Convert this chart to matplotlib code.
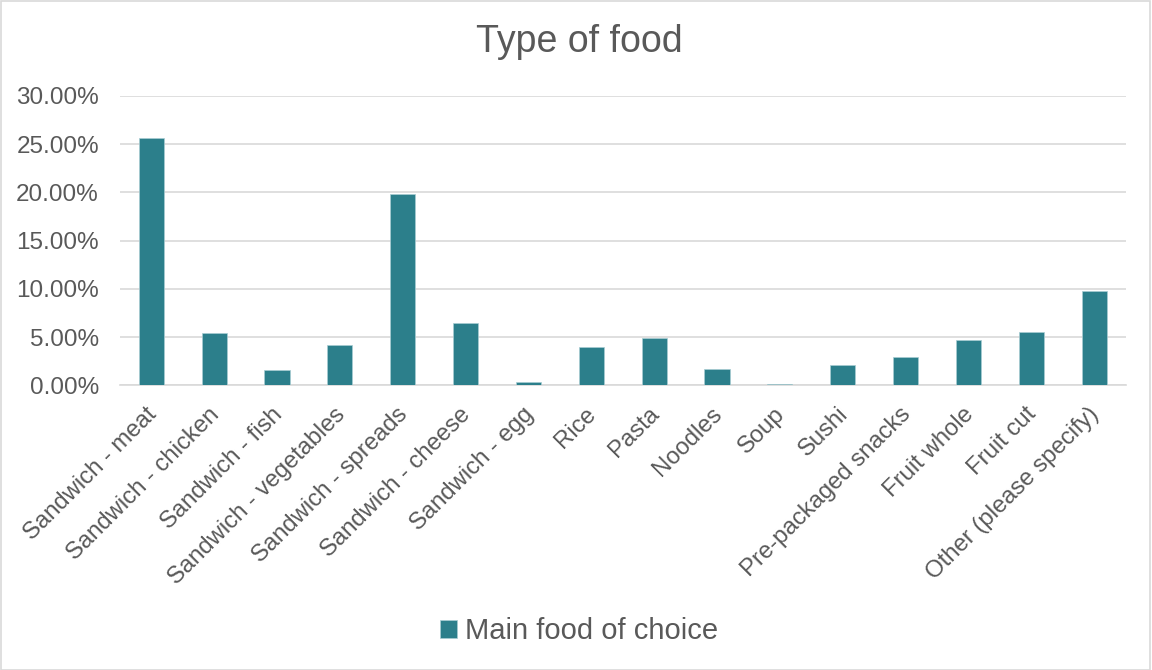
import matplotlib.pyplot as plt
from matplotlib.ticker import PercentFormatter
from matplotlib.transforms import ScaledTranslation

plt.rcParams['font.family'] = ['Liberation Sans', 'DejaVu Sans']

# ===== DONNEES =====
categories = ['Sandwich - meat', 'Sandwich - chicken', 'Sandwich - fish',
              'Sandwich - vegetables', 'Sandwich - spreads', 'Sandwich - cheese',
              'Sandwich - egg', 'Rice', 'Pasta', 'Noodles', 'Soup', 'Sushi',
              'Pre-packaged snacks', 'Fruit whole', 'Fruit cut',
              'Other (please specify)']
values = [25.67, 5.45, 1.55, 4.21, 19.80, 6.49, 0.35, 3.93, 4.87, 1.66,
          0.14, 2.10, 2.97, 4.69, 5.55, 9.73]
series_name = 'Main food of choice'

bar_color = '#2C7F8B'
text_color = '#595959'

# ===== GRAPHIQUE =====
fig = plt.figure(figsize=(11.52, 6.7), dpi=100)
ax = fig.add_axes([0.104, 0.425, 0.873, 0.432])

x = range(len(categories))
ax.bar(x, values, width=0.4, color=bar_color, edgecolor='#a9cdd3',
       linewidth=0.5, label=series_name, zorder=3)

ax.set_ylim(0, 30)
ax.set_xlim(-0.5, len(categories) - 0.5)
ax.set_yticks(range(0, 31, 5))
ax.yaxis.set_major_formatter(PercentFormatter(decimals=2))
ax.grid(axis='y', color='#d9d9d9', linewidth=1.2, zorder=0)
ax.set_axisbelow(True)

for side in ['top', 'right', 'left']:
    ax.spines[side].set_visible(False)
ax.spines['bottom'].set_color('#d9d9d9')
ax.spines['bottom'].set_linewidth(1.2)

ax.set_xticks(list(x))
ax.set_xticklabels(categories, rotation=45, ha='right', rotation_mode='anchor',
                   fontsize=17.2, color=text_color)
ax.tick_params(axis='y', labelsize=17.5, labelcolor=text_color, length=0, pad=15)
ax.tick_params(axis='x', length=0, pad=13)
# petit décalage vers la gauche des étiquettes inclinées
offset = ScaledTranslation(-6 / 100, 0, fig.dpi_scale_trans)
for lab in ax.get_xticklabels():
    lab.set_transform(lab.get_transform() + offset)

fig.text(0.503, 0.937, 'Type of food', ha='center', va='center',
         fontsize=27, color=text_color)

fig.legend(loc='center', bbox_to_anchor=(0.503, 0.058), frameon=False,
           fontsize=21, handlelength=0.55, handleheight=0.55, handletextpad=0.3,
           labelcolor=text_color)

# bordure du graphique
fig.patches.append(plt.Rectangle((0.0005, 0.0005), 0.998, 0.998, transform=fig.transFigure,
                                 fill=False, edgecolor='#d9d9d9', linewidth=1.2))

plt.savefig('out.png', dpi=100)
